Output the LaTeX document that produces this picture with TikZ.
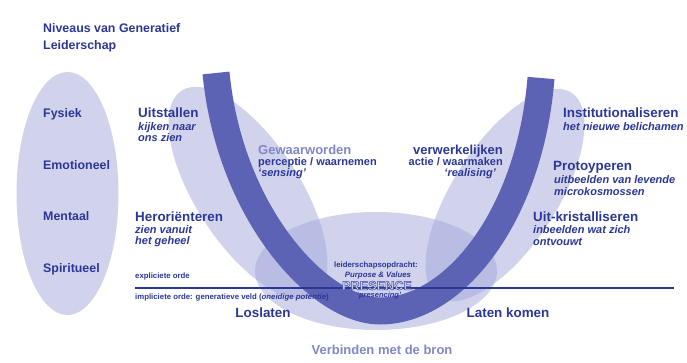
\documentclass[tikz,border=0pt]{standalone}
\usepackage{fontspec}
\setmainfont{Liberation Sans}

\definecolor{gdark}{RGB}{43,55,150}
\definecolor{gband}{RGB}{92,99,180}
\definecolor{gpale}{RGB}{163,168,218}
\definecolor{glight}{RGB}{128,135,200}
\definecolor{gletter}{RGB}{214,216,240}

\begin{document}
\begin{tikzpicture}[x=1pt,y=1pt,
  every node/.style={inner sep=0pt,text=gdark},
  blob/.style={fill=gpale,fill opacity=0.5,draw=none},
  level/.style={font=\fontsize{12.4}{15}\selectfont\bfseries,anchor=base west},
  head/.style={font=\fontsize{13.4}{16}\selectfont\bfseries,anchor=base west},
  sub/.style={font=\fontsize{11}{13}\selectfont\bfseries\itshape,anchor=base west},
  small/.style={font=\fontsize{7.8}{9}\selectfont\bfseries,anchor=base west}]
\useasboundingbox (0,0) rectangle (687,363);

% levels
\fill[gpale!50!white] (67.5,169.5) ellipse [x radius=51pt, y radius=121.5pt];

% sensing / realising / presencing fields
\fill[blob] (248,170) ellipse [x radius=122pt, y radius=52pt, rotate=-57];
\fill[blob] (505,168) ellipse [x radius=122pt, y radius=52pt, rotate=57];
\fill[blob] (376,92) ellipse [x radius=121pt, y radius=59pt];

% the U
\draw[gband,line width=27pt] (216,290) .. controls (230,148) and (320,52) .. (380,52)
  .. controls (455,52) and (530,148) .. (541,285);

% explicit / implicit order
\coordinate (ordeL) at (135,75);
\coordinate (ordeR) at (674,75);
\draw[gdark,line width=1.1pt] (ordeL) -- (ordeR);

\node[level] (titel1) at (43,330.5) {Niveaus van Generatief};
\node[level] (titel2) at (43,313.5) {Leiderschap};

\node[level] (fysiek) at (43,245.6) {Fysiek};
\node[level] (emotioneel) at (43,193.6) {Emotioneel};
\node[level] (mentaal) at (43,142.6) {Mentaal};
\node[level] (spiritueel) at (43,90.6) {Spiritueel};

\node[head] (uitstallen) at (138,245) {Uitstallen};
\node[sub] (kijken) at (138,232) {kijken naar};
\node[sub] (onszien) at (138,221) {ons zien};

\node[head] (herorienteren) at (135,141.3) {Heroriënteren};
\node[sub] (zien) at (135,129.7) {zien vanuit};
\node[sub] (geheel) at (135,118) {het geheel};

\node[head,font=\fontsize{13}{16}\selectfont\bfseries,text=glight] (gewaarworden) at (258,208.5) {Gewaarworden};
\node[sub,font=\fontsize{11}{13}\selectfont\bfseries] (perceptie) at (258,197) {perceptie / waarnemen};
\node[sub] (sensing) at (258,186) {‘sensing’};

\node[head,font=\fontsize{13}{16}\selectfont\bfseries,anchor=base east] (verwerkelijken) at (503,208.5) {verwerkelijken};
\node[sub,font=\fontsize{11}{13}\selectfont\bfseries,anchor=base east] (actie) at (503,197) {actie / waarmaken};
\node[sub,anchor=base east] (realising) at (496,186) {‘realising’};

\node[head] (institutionaliseren) at (563,245) {Institutionaliseren};
\node[sub] (belichamen) at (563,232) {het nieuwe belichamen};

\node[head] (protoyperen) at (553,192) {Protoyperen};
\node[sub] (uitbeelden) at (554,179) {uitbeelden van levende};
\node[sub] (micro) at (554,167) {microkosmossen};

\node[head] (kristalliseren) at (533,141) {Uit-kristalliseren};
\node[sub] (inbeelden) at (533,129) {inbeelden wat zich};
\node[sub] (ontvouwt) at (533,117) {ontvouwt};

\node[small] (expliciet) at (135,84) {expliciete orde};
\node[small] (impliciet) at (135,63) {impliciete orde: generatieve veld (\textit{oneidige potentie})};

\node[small,anchor=base] (opdracht) at (376,95) {leiderschapsopdracht:};
\node[small,anchor=base,font=\fontsize{7.8}{9}\selectfont\bfseries\itshape] (purpose) at (378,85) {Purpose \& Values};
\node[anchor=base,font=\fontsize{12.7}{15}\selectfont\bfseries,text=gletter] (presence) at (377,73)
  {\special{pdf:literal direct 2 Tr 0.5 w 0.22 0.27 0.62 RG}PRESENCE\special{pdf:literal direct 0 Tr}};
\node[small,anchor=base,font=\fontsize{7.5}{9}\selectfont\bfseries\itshape] (presencing) at (379,65) {‘presencing’};

\node[head,anchor=base] (loslaten) at (263,45) {Loslaten};
\node[head,anchor=base] (latenkomen) at (508,45) {Laten komen};
\node[head,anchor=base,font=\fontsize{13}{16}\selectfont\bfseries,text=glight] (bron) at (382,8) {Verbinden met de bron};

\end{tikzpicture}
\end{document}
